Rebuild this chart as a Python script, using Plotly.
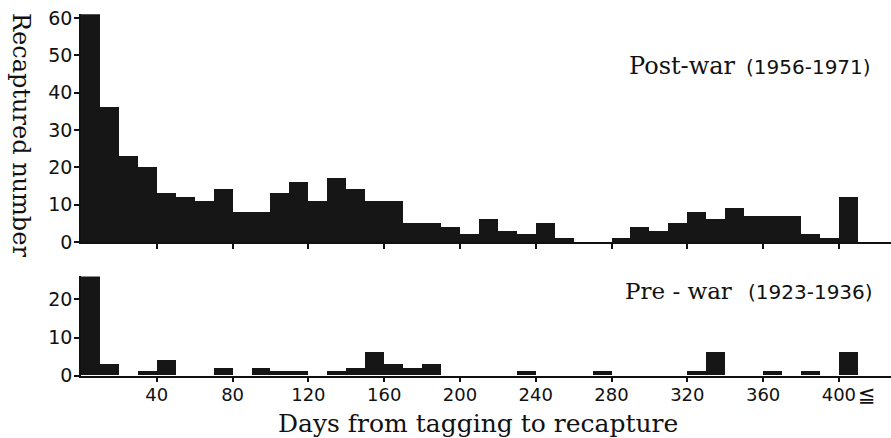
import plotly.graph_objects as go

# ---- data (10-day bins; last bin = 400 days and over) ----
bin_start = list(range(0, 410, 10))
post_war = [61, 36, 23, 20, 13, 12, 11, 14, 8, 8,
            13, 16, 11, 17, 14, 11, 11, 5, 5, 4,
            2, 6, 3, 2, 5, 1, 0, 0, 1, 4,
            3, 5, 8, 6, 9, 7, 7, 7, 2, 1,
            12]
pre_war = [26, 3, 0, 1, 4, 0, 0, 2, 0, 2,
           1, 1, 0, 1, 2, 6, 3, 2, 3, 0,
           0, 0, 0, 1, 0, 0, 0, 1, 0, 0,
           0, 0, 1, 6, 0, 0, 1, 0, 1, 0,
           6]
x_tick_vals = [40, 80, 120, 160, 200, 240, 280, 320, 360, 400]
x_tick_text = ["40", "80", "120", "160", "200", "240", "280", "320", "360", "400"]
post_y_ticks = [0, 10, 20, 30, 40, 50, 60]
pre_y_ticks = [0, 10, 20]

W, H = 891, 438
ML = 81
BAR = "#161616"
INK = "#111111"
SERIF = "DejaVu Serif"
SANS = "DejaVu Sans"


def px(xpix):
    return (xpix - ML) / (W - ML)


def py(ypix):
    return (H - ypix) / H


fig = go.Figure()
fig.add_trace(go.Bar(x=bin_start, y=post_war, width=10, offset=0,
                     marker=dict(color=BAR, line=dict(width=0)),
                     xaxis="x2", yaxis="y2", showlegend=False))
fig.add_trace(go.Bar(x=bin_start, y=pre_war, width=10, offset=0,
                     marker=dict(color=BAR, line=dict(width=0)),
                     xaxis="x", yaxis="y", showlegend=False))

axis_common = dict(showgrid=False, zeroline=False, showline=True,
                   linecolor=INK, linewidth=1.5, ticks="outside",
                   ticklen=5, tickwidth=1.5, tickcolor=INK,
                   automargin=False)

x_font = dict(family=SANS, size=18, color=INK)
y_font = dict(family=SANS, size=19, color=INK)

fig.update_layout(
    template="none",
    width=W, height=H, autosize=False,
    margin=dict(l=ML, r=0, t=0, b=0, pad=0),
    paper_bgcolor="white", plot_bgcolor="white",
    bargap=0,
    xaxis=dict(domain=[0, 1], range=[0, 427.5], anchor="y",
               tickvals=x_tick_vals, ticktext=x_tick_text,
               tickfont=x_font, ticklabelstandoff=-3, **axis_common),
    yaxis=dict(domain=[py(375.7), py(276.4)], range=[0, 26], anchor="x",
               tickvals=pre_y_ticks, tickfont=y_font,
               ticklabelstandoff=-2, **axis_common),
    xaxis2=dict(domain=[0, 1], range=[0, 427.5], anchor="y2",
                tickvals=x_tick_vals, showticklabels=False, **axis_common),
    yaxis2=dict(domain=[py(242), py(14.3)], range=[0, 61], anchor="x2",
                tickvals=post_y_ticks, tickfont=y_font,
                ticklabelstandoff=-2, **axis_common),
)

ann = []
ann.append(dict(text="Recaptured number", textangle=90, x=px(21), y=py(135),
                xref="paper", yref="paper", showarrow=False,
                xanchor="center", yanchor="middle",
                font=dict(family=SERIF, size=24, color=INK)))
ann.append(dict(text="Days from tagging to recapture", x=px(478), y=py(423),
                xref="paper", yref="paper", showarrow=False,
                xanchor="center", yanchor="middle",
                font=dict(family=SERIF, size=25, color=INK)))
ann.append(dict(text="Post-war", x=px(738), y=py(66),
                xref="paper", yref="paper", showarrow=False,
                xanchor="right", yanchor="middle",
                font=dict(family=SERIF, size=24, color=INK)))
ann.append(dict(text="(1956-1971)", x=px(744), y=py(67),
                xref="paper", yref="paper", showarrow=False,
                xanchor="left", yanchor="middle",
                font=dict(family=SANS, size=20, color=INK)))
ann.append(dict(text="Pre - war", x=px(734), y=py(291),
                xref="paper", yref="paper", showarrow=False,
                xanchor="right", yanchor="middle",
                font=dict(family=SERIF, size=23, color=INK)))
ann.append(dict(text="(1923-1936)", x=px(746), y=py(292),
                xref="paper", yref="paper", showarrow=False,
                xanchor="left", yanchor="middle",
                font=dict(family=SANS, size=20, color=INK)))
ann.append(dict(text="≦", x=px(856), y=py(395),
                xref="paper", yref="paper", showarrow=False,
                xanchor="left", yanchor="middle",
                font=dict(family=SANS, size=21, color=INK)))
fig.update_layout(annotations=ann)

fig.write_html("out.html",
               config={"displayModeBar": False, "responsive": False},
               post_script="document.body.style.margin='0';"
                           "document.body.style.padding='0';")
